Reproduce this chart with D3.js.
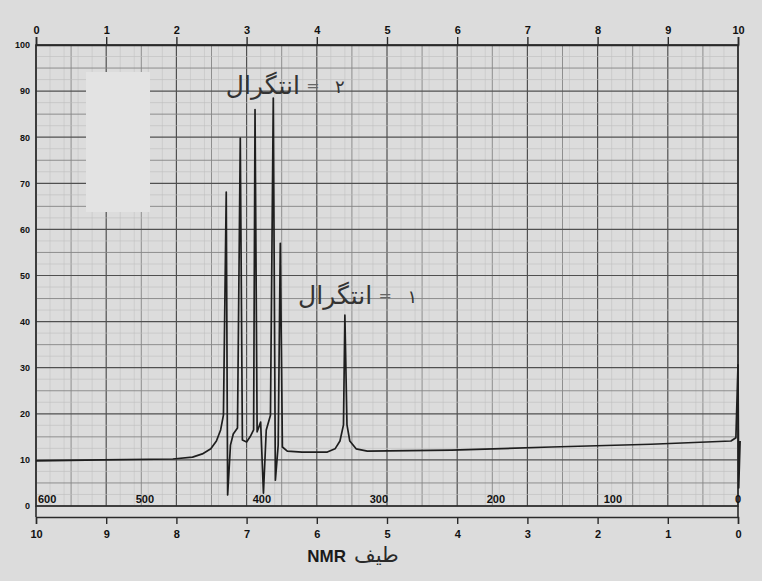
<!DOCTYPE html>
<html>
<head>
<meta charset="utf-8">
<script src="https://cdn.jsdelivr.net/npm/d3@7/dist/d3.min.js"></script>
<style>
  html, body { margin: 0; padding: 0; background: #dcdcdc; }
  svg { display: block; }
</style>
</head>
<body>
<svg id="chart" width="762" height="581"></svg>
<script>
// ---- data ----
const topTicks = [0, 1, 2, 3, 4, 5, 6, 7, 8, 9, 10];          // tau scale (top)
const bottomTicks = [10, 9, 8, 7, 6, 5, 4, 3, 2, 1, 0];       // delta ppm (bottom)
const yTicks = [0, 10, 20, 30, 40, 50, 60, 70, 80, 90, 100];
const hzLabels = ["600", "500", "400", "300", "200", "100", "0"];
const hzValues = [600, 500, 400, 300, 200, 100, 0];            // Hz at 60 MHz
const specPpm = [10.00, 9.05, 8.05, 7.77, 7.63, 7.51, 7.43, 7.37, 7.33, 7.29, 7.27, 7.23, 7.19, 7.13,
                 7.09, 7.06, 7.00, 6.95, 6.90, 6.88, 6.85, 6.80, 6.76, 6.72, 6.66, 6.62, 6.59, 6.55,
                 6.52, 6.49, 6.42, 6.21, 5.85, 5.74, 5.67, 5.62, 5.60, 5.57, 5.53, 5.44, 5.28, 4.08,
                 2.66, 1.24, 0.10, 0.03, 0.00, -0.01, -0.03];
const specVal = [9.8, 10.0, 10.2, 10.6, 11.3, 12.4, 14.1, 16.5, 19.7, 68.1, 2.4, 13.2, 15.6, 16.9,
                 79.8, 14.3, 13.9, 15.0, 16.5, 86.0, 16.1, 18.2, 2.8, 16.5, 19.7, 88.5, 5.6, 13.2,
                 57.0, 12.8, 11.9, 11.7, 11.7, 12.4, 14.1, 17.6, 41.4, 17.6, 14.1, 12.4, 11.9, 12.1,
                 12.8, 13.4, 14.1, 14.8, 30.6, 3.9, 14.1];
const integralLabels = [
  { word: "انتگرال", eq: "=", num: "۲", ppm: 6.24, val: 89.4 },
  { word: "انتگرال", eq: "=", num: "۱", ppm: 5.21, val: 43.8 }
];
const titleLatin = "NMR";
const titlePersian = "طیف";

// ---- layout ----
const svg = d3.select("#chart");
const x = d3.scaleLinear().domain([10, 0]).range([36, 738]);
const xTop = d3.scaleLinear().domain([0, 10]).range([36, 738]);
const y = d3.scaleLinear().domain([0, 100]).range([506, 45]);
const axisY = 517;

svg.append("rect").attr("width", 762).attr("height", 581).attr("fill", "#dcdcdc");

// grid
const g = svg.append("g");
d3.range(0, 101, 1).forEach(r => {
  const v = r / 10;
  let col = "#c2c2c2", w = 0.6;
  if (r % 10 === 0) { col = "#505050"; w = 1.2; }
  else if (r % 5 === 0) { col = "#858585"; w = 0.9; }
  else if (r % 2 !== 0) { return; }
  g.append("line").attr("x1", x(v)).attr("x2", x(v)).attr("y1", y(100)).attr("y2", y(0))
    .attr("stroke", col).attr("stroke-width", w);
});
d3.range(0, 101, 2.5).forEach(v => {
  let col = "#bdbdbd", w = 0.6;
  if (v % 10 === 0) { col = "#505050"; w = 1.2; }
  else if (v % 5 === 0) { col = "#858585"; w = 0.9; }
  g.append("line").attr("x1", x(10)).attr("x2", x(0)).attr("y1", y(v)).attr("y2", y(v))
    .attr("stroke", col).attr("stroke-width", w);
});

// glare patch (blank area of the photographed paper)
svg.append("rect").attr("x", 86).attr("y", 72).attr("width", 64).attr("height", 140)
  .attr("fill", "#e3e3e3");

// frame
svg.append("rect").attr("x", x(10)).attr("y", y(100)).attr("width", x(0) - x(10)).attr("height", y(0) - y(100))
  .attr("fill", "none").attr("stroke", "#2a2a2a").attr("stroke-width", 1.6);

// top axis
const topAxis = d3.axisTop(xTop).tickValues(topTicks).tickSize(8).tickFormat(d3.format("d"));
const ta = svg.append("g").attr("transform", `translate(0,${y(100)})`).call(topAxis);
ta.select(".domain").attr("stroke", "#2a2a2a").attr("stroke-width", 1.6);
ta.selectAll(".tick line").attr("stroke", "#2a2a2a").attr("stroke-width", 1.4);
ta.selectAll(".tick text").attr("fill", "#111").attr("font-family", "Liberation Sans, Arial, sans-serif")
  .attr("font-size", 11).attr("font-weight", "bold");

// left axis
const leftAxis = d3.axisLeft(y).tickValues(yTicks).tickSize(0).tickPadding(6).tickFormat(d3.format("d"));
const la = svg.append("g").attr("transform", `translate(${x(10)},0)`).call(leftAxis);
la.select(".domain").remove();
la.selectAll(".tick text").attr("fill", "#111").attr("font-family", "Liberation Sans, Arial, sans-serif")
  .attr("font-size", 9).attr("font-weight", "bold");

// bottom ppm axis
const bottomAxis = d3.axisBottom(x).tickValues(bottomTicks).tickSize(7).tickPadding(6).tickFormat(d3.format("d"));
const ba = svg.append("g").attr("transform", `translate(0,${axisY})`).call(bottomAxis);
ba.select(".domain").attr("stroke", "#2a2a2a").attr("stroke-width", 1.4);
ba.selectAll(".tick line").attr("stroke", "#2a2a2a").attr("stroke-width", 1.4);
ba.selectAll(".tick text").attr("fill", "#111").attr("font-family", "Liberation Sans, Arial, sans-serif")
  .attr("font-size", 11).attr("font-weight", "bold");
svg.append("line").attr("x1", x(10)).attr("x2", x(10)).attr("y1", y(0)).attr("y2", axisY)
  .attr("stroke", "#2a2a2a").attr("stroke-width", 1.6);
svg.append("line").attr("x1", x(0)).attr("x2", x(0)).attr("y1", y(0)).attr("y2", axisY)
  .attr("stroke", "#2a2a2a").attr("stroke-width", 1.6);

// Hz labels inside the strip
svg.append("g").selectAll("text").data(hzValues).join("text")
  .attr("x", (d, i) => i === 0 ? x(d / 60) + 2 : (i === hzValues.length - 1 ? x(d / 60) : x(d / 60) + 1))
  .attr("y", y(0) - 3)
  .attr("text-anchor", (d, i) => i === 0 ? "start" : (i === hzValues.length - 1 ? "middle" : "end"))
  .attr("font-family", "Liberation Sans, Arial, sans-serif").attr("font-size", 11).attr("font-weight", "bold")
  .attr("fill", "#111")
  .text((d, i) => hzLabels[i]);

// spectrum
const pts = specPpm.map((p, i) => [p, specVal[i]]);
const line = d3.line().x(d => x(d[0])).y(d => y(d[1]));
svg.append("path").datum(pts).attr("d", line).attr("fill", "none")
  .attr("stroke", "#1e1e1e").attr("stroke-width", 1.7).attr("stroke-linejoin", "round");

// integral annotations
integralLabels.forEach(a => {
  const cx = x(a.ppm), cy = y(a.val);
  svg.append("text").attr("x", cx).attr("y", cy).attr("text-anchor", "end")
    .attr("font-family", "DejaVu Sans, sans-serif").attr("font-size", 25).attr("fill", "#333").text(a.word);
  svg.append("text").attr("x", cx + 13).attr("y", cy - 3).attr("text-anchor", "middle")
    .attr("font-family", "DejaVu Sans, sans-serif").attr("font-size", 16).attr("fill", "#666").text(a.eq);
  svg.append("text").attr("x", cx + 40).attr("y", cy - 1).attr("text-anchor", "middle")
    .attr("font-family", "DejaVu Sans, sans-serif").attr("font-size", 18).attr("fill", "#333").text(a.num);
});

// title
svg.append("text").attr("x", 346).attr("y", 562).attr("text-anchor", "end")
  .attr("font-family", "Liberation Sans, Arial, sans-serif").attr("font-size", 17).attr("font-weight", "bold")
  .attr("fill", "#1a1a1a").text(titleLatin);
svg.append("text").attr("x", 354).attr("y", 562).attr("text-anchor", "start")
  .attr("font-family", "DejaVu Sans, sans-serif").attr("font-size", 21)
  .attr("fill", "#2a2a2a").text(titlePersian);
</script>
</body>
</html>
